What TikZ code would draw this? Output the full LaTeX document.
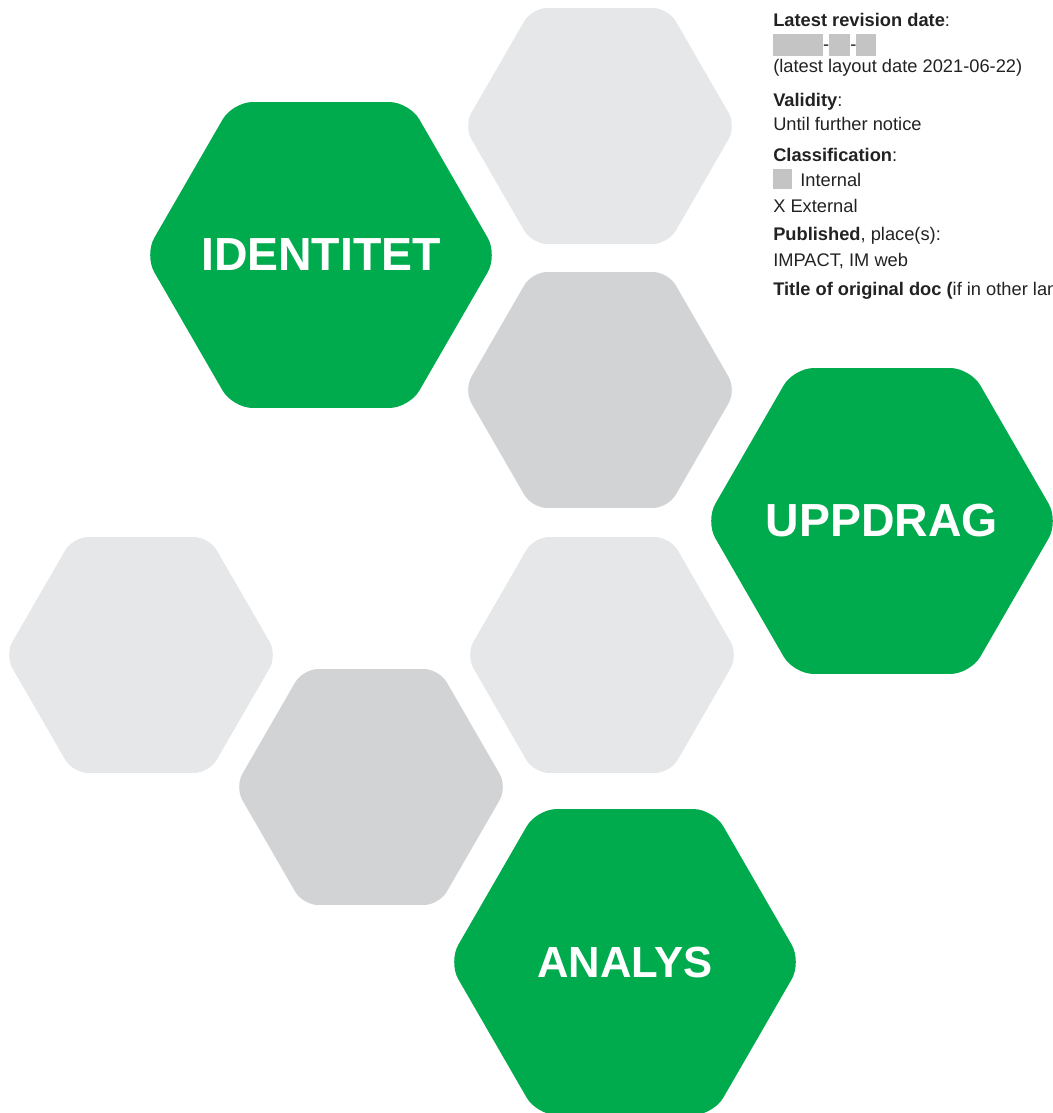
\documentclass[tikz,border=0pt]{standalone}
\usepackage{fontspec}
\setmainfont{Liberation Sans}
\usetikzlibrary{shapes.geometric}

\definecolor{hexgreen}{HTML}{00AB4E}
\definecolor{hexlight}{HTML}{E6E7E8}
\definecolor{hexdark}{HTML}{D1D3D4}
\definecolor{blurgray}{HTML}{C4C4C4}
\definecolor{infotext}{HTML}{222222}

\tikzset{
  hexa/.style={regular polygon, regular polygon sides=6, inner sep=0pt},
  greenhex/.style={hexa, minimum size=8.83cm, rounded corners=0.5cm, fill=hexgreen},
  lighthex/.style={hexa, minimum size=6.81cm, rounded corners=0.38cm, fill=hexlight},
  darkhex/.style={hexa, minimum size=6.81cm, rounded corners=0.38cm, fill=hexdark},
  hexlabel/.style={inner sep=0pt, text=white, font=\bfseries\fontsize{33}{33}\selectfont},
  info/.style={anchor=base west, inner sep=0pt, text=infotext,
    font=\fontsize{13}{17}\selectfont}
}

\begin{document}
\begin{tikzpicture}[x=0.025cm, y=-0.025cm]
  \useasboundingbox (0,0) rectangle (1053,1113);

  % gray hexagons
  \node[lighthex] (top) at (600,126) {};
  \node[darkhex] (mid) at (600,390) {};
  \node[lighthex] (left) at (141,655) {};
  \node[lighthex] (right) at (602,655) {};
  \node[darkhex] (low) at (371,787) {};

  % green hexagons
  \node[greenhex] (ident) at (321,255) {};
  \node[greenhex] (uppdrag) at (882,521) {};
  \node[greenhex] (analys) at (625,962) {};
  \node[hexlabel] (identtext) at (ident) {IDENTITET};
  \node[hexlabel] (uppdragtext) at (uppdrag) {UPPDRAG};
  \node[hexlabel, font=\bfseries\fontsize{31}{31}\selectfont] (analystext) at (analys) {ANALYS};

  % document info
  \node[info] (rev) at (773,26.7) {\textbf{Latest revision date}:};
  \node[info] (revdate) at (773,50.5) {\textcolor{blurgray}{\rule[-3.6pt]{35.5pt}{15.6pt}}-\textcolor{blurgray}{\rule[-3.6pt]{15pt}{15.6pt}}-\textcolor{blurgray}{\rule[-3.6pt]{14.2pt}{15.6pt}}};
  \node[info] (layout) at (773,72.7) {(latest layout date 2021-06-22)};
  \node[info] (valid) at (773,106.7) {\textbf{Validity}:};
  \node[info] (until) at (773,130) {Until further notice};
  \node[info] (class) at (773,161.7) {\textbf{Classification}:};
  \node[info] (internal) at (773,186.7) {\textcolor{blurgray}{\rule[-1.6pt]{13.5pt}{14.2pt}}\hspace{5.7pt}Internal};
  \node[info] (external) at (773,212.7) {X External};
  \node[info] (pub) at (773,240) {\textbf{Published}, place(s):};
  \node[info] (impact) at (773,266.7) {IMPACT, IM web};
  \node[info] (title) at (773,295) {\textbf{Title of original doc (}if in other lan};
\end{tikzpicture}
\end{document}
